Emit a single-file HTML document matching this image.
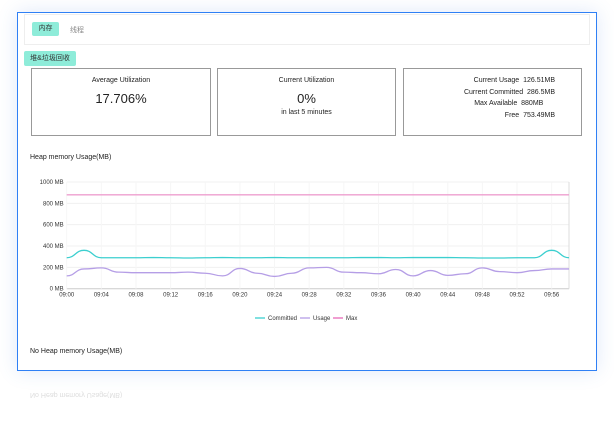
<!DOCTYPE html>
<html><head><meta charset="utf-8"><style>
body{margin:0;width:614px;height:436px;background:#fff;font-family:"Liberation Sans","Noto Sans CJK SC",sans-serif;position:relative;overflow:hidden}
.abs{position:absolute}
.frame{left:17px;top:12px;width:578px;height:357px;border:1px solid #2f80f5;box-shadow:0 0 18px rgba(80,130,220,.18);background:#fff}
.tabs{left:24px;top:14px;width:564px;height:29px;border:1px solid #eee}
.tag{background:#8eecd9;color:#333;font-size:7px;border-radius:2px;text-align:center}
.card{border:1px solid #999;top:68px;height:66px;background:#fff;font-size:7px;color:#222;text-align:center}
</style></head><body>
<div class="abs frame"></div>
<div class="abs tabs"></div>
<div class="abs tag" style="left:32px;top:22px;width:27px;height:14px;line-height:14px">内存</div>
<div class="abs" style="left:70px;top:25px;font-size:7px;color:#888">线程</div>
<div class="abs tag" style="left:24px;top:51px;width:52px;height:15px;line-height:15px">堆&amp;垃圾回收</div>

<div class="abs card" style="left:31px;width:178px">
<div style="margin-top:8px">Average Utilization</div><div style="font-size:13px;margin-top:7px">17.706%</div></div>
<div class="abs card" style="left:217px;width:177px">
<div style="margin-top:8px">Current Utilization</div><div style="font-size:13px;margin-top:7px">0%</div><div style="margin-top:3px">in last 5 minutes</div></div>
<div class="abs card" style="left:403px;width:177px;text-align:right;font-size:7px;line-height:11.5px">
<div style="position:absolute;right:26px;top:6px;white-space:nowrap">Current Usage&nbsp;&nbsp;126.51MB<br>Current Committed&nbsp;&nbsp;286.5MB<br>Max Available&nbsp;&nbsp;880MB&nbsp;&nbsp;&nbsp;&nbsp;&nbsp;&nbsp;<br>Free&nbsp;&nbsp;753.49MB</div></div>

<div class="abs" style="left:30px;top:154px;font-size:7px;color:#222">Heap memory Usage(MB)</div>
<div class="abs" style="left:30px;top:348px;font-size:7px;color:#222">No Heap memory Usage(MB)</div>
<div class="abs" style="left:30px;top:391px;font-size:7px;color:#ddd;transform:scaleY(-1)">No Heap memory Usage(MB)</div>

<svg class="abs" style="left:0;top:0" width="614" height="436" id="chart"></svg>
<script>
const minutes=[0,2,4,6,8,10,12,14,16,18,20,22,24,26,28,30,32,34,36,38,40,42,44,46,48,50,52,54,56,58];
const committed=[290,360,290,290,290,292,290,288,290,292,290,290,292,290,290,290,290,292,292,290,292,292,292,290,288,288,290,290,360,290];
const usage=[120,185,195,155,150,150,150,155,145,120,190,145,115,145,195,200,155,150,140,180,120,170,125,140,195,160,150,170,185,185];
const maxv=[880,880,880,880,880,880,880,880,880,880,880,880,880,880,880,880,880,880,880,880,880,880,880,880,880,880,880,880,880,880];
const yTicks=[0,200,400,600,800,1000];
const xTickLabels=["09:00","09:04","09:08","09:12","09:16","09:20","09:24","09:28","09:32","09:36","09:40","09:44","09:48","09:52","09:56"];
const X0=66.7,X1=569,Y0=288.7,Y1=182;
const xs=m=>X0+(X1-X0)*m/58, ys=v=>Y0-(Y0-Y1)*v/1000;
const svg=document.getElementById('chart'),NS='http://www.w3.org/2000/svg';
function mk(t,a){const e=document.createElementNS(NS,t);for(const k in a)e.setAttribute(k,a[k]);svg.appendChild(e);return e;}
yTicks.forEach(v=>{
 const l=mk('line',{x1:X0,x2:X1,y1:ys(v),y2:ys(v),stroke:v?'#f0f0f0':'#ccc','stroke-width':1});
 
 
 const t=mk('text',{x:X0-3,y:ys(v)+2,'font-size':6,'text-anchor':'end',fill:'#333'});t.textContent=v+' MB';
 
 
});
xTickLabels.forEach((s,i)=>{const x=xs(i*4);
 const l=mk('line',{x1:x,x2:x,y1:Y1,y2:Y0,stroke:'#f6f6f6'});
 
 
 const t=mk('text',{x:x,y:Y0+8,'font-size':6,'text-anchor':'middle',fill:'#333'});t.textContent=s;
 
 
});
mk('line',{x1:X1,x2:X1,y1:Y1,y2:Y0,stroke:'#ddd'});
function path(arr){let d='';const p=arr.map((v,i)=>[xs(minutes[i]),ys(v)]);
 d='M'+p[0][0]+','+p[0][1];
 for(let i=1;i<p.length;i++){const a=p[i-1],b=p[i],c=(a[0]+b[0])/2;d+=` C${c},${a[1]} ${c},${b[1]} ${b[0]},${b[1]}`;}return d;}
const series=[[maxv,'#ee9fcf','series-max'],[committed,'#3ccfcf','series-committed'],[usage,'#b59ee6','series-usage']];
series.forEach(s=>{const p=mk('path',{d:path(s[0]),fill:'none',stroke:s[1],'stroke-width':1.3});
 
 });
const leg=[['Committed','#3ccfcf',255],['Usage','#b59ee6',300],['Max','#e86ab8',333]];
leg.forEach(l=>{const g=mk('line',{x1:l[2],x2:l[2]+10,y1:318,y2:318,stroke:l[1],'stroke-width':1.3});
 
 
 const t=mk('text',{x:l[2]+13,y:320,'font-size':6,fill:'#333'});t.textContent=l[0];
 
 });
</script>
</body></html>
